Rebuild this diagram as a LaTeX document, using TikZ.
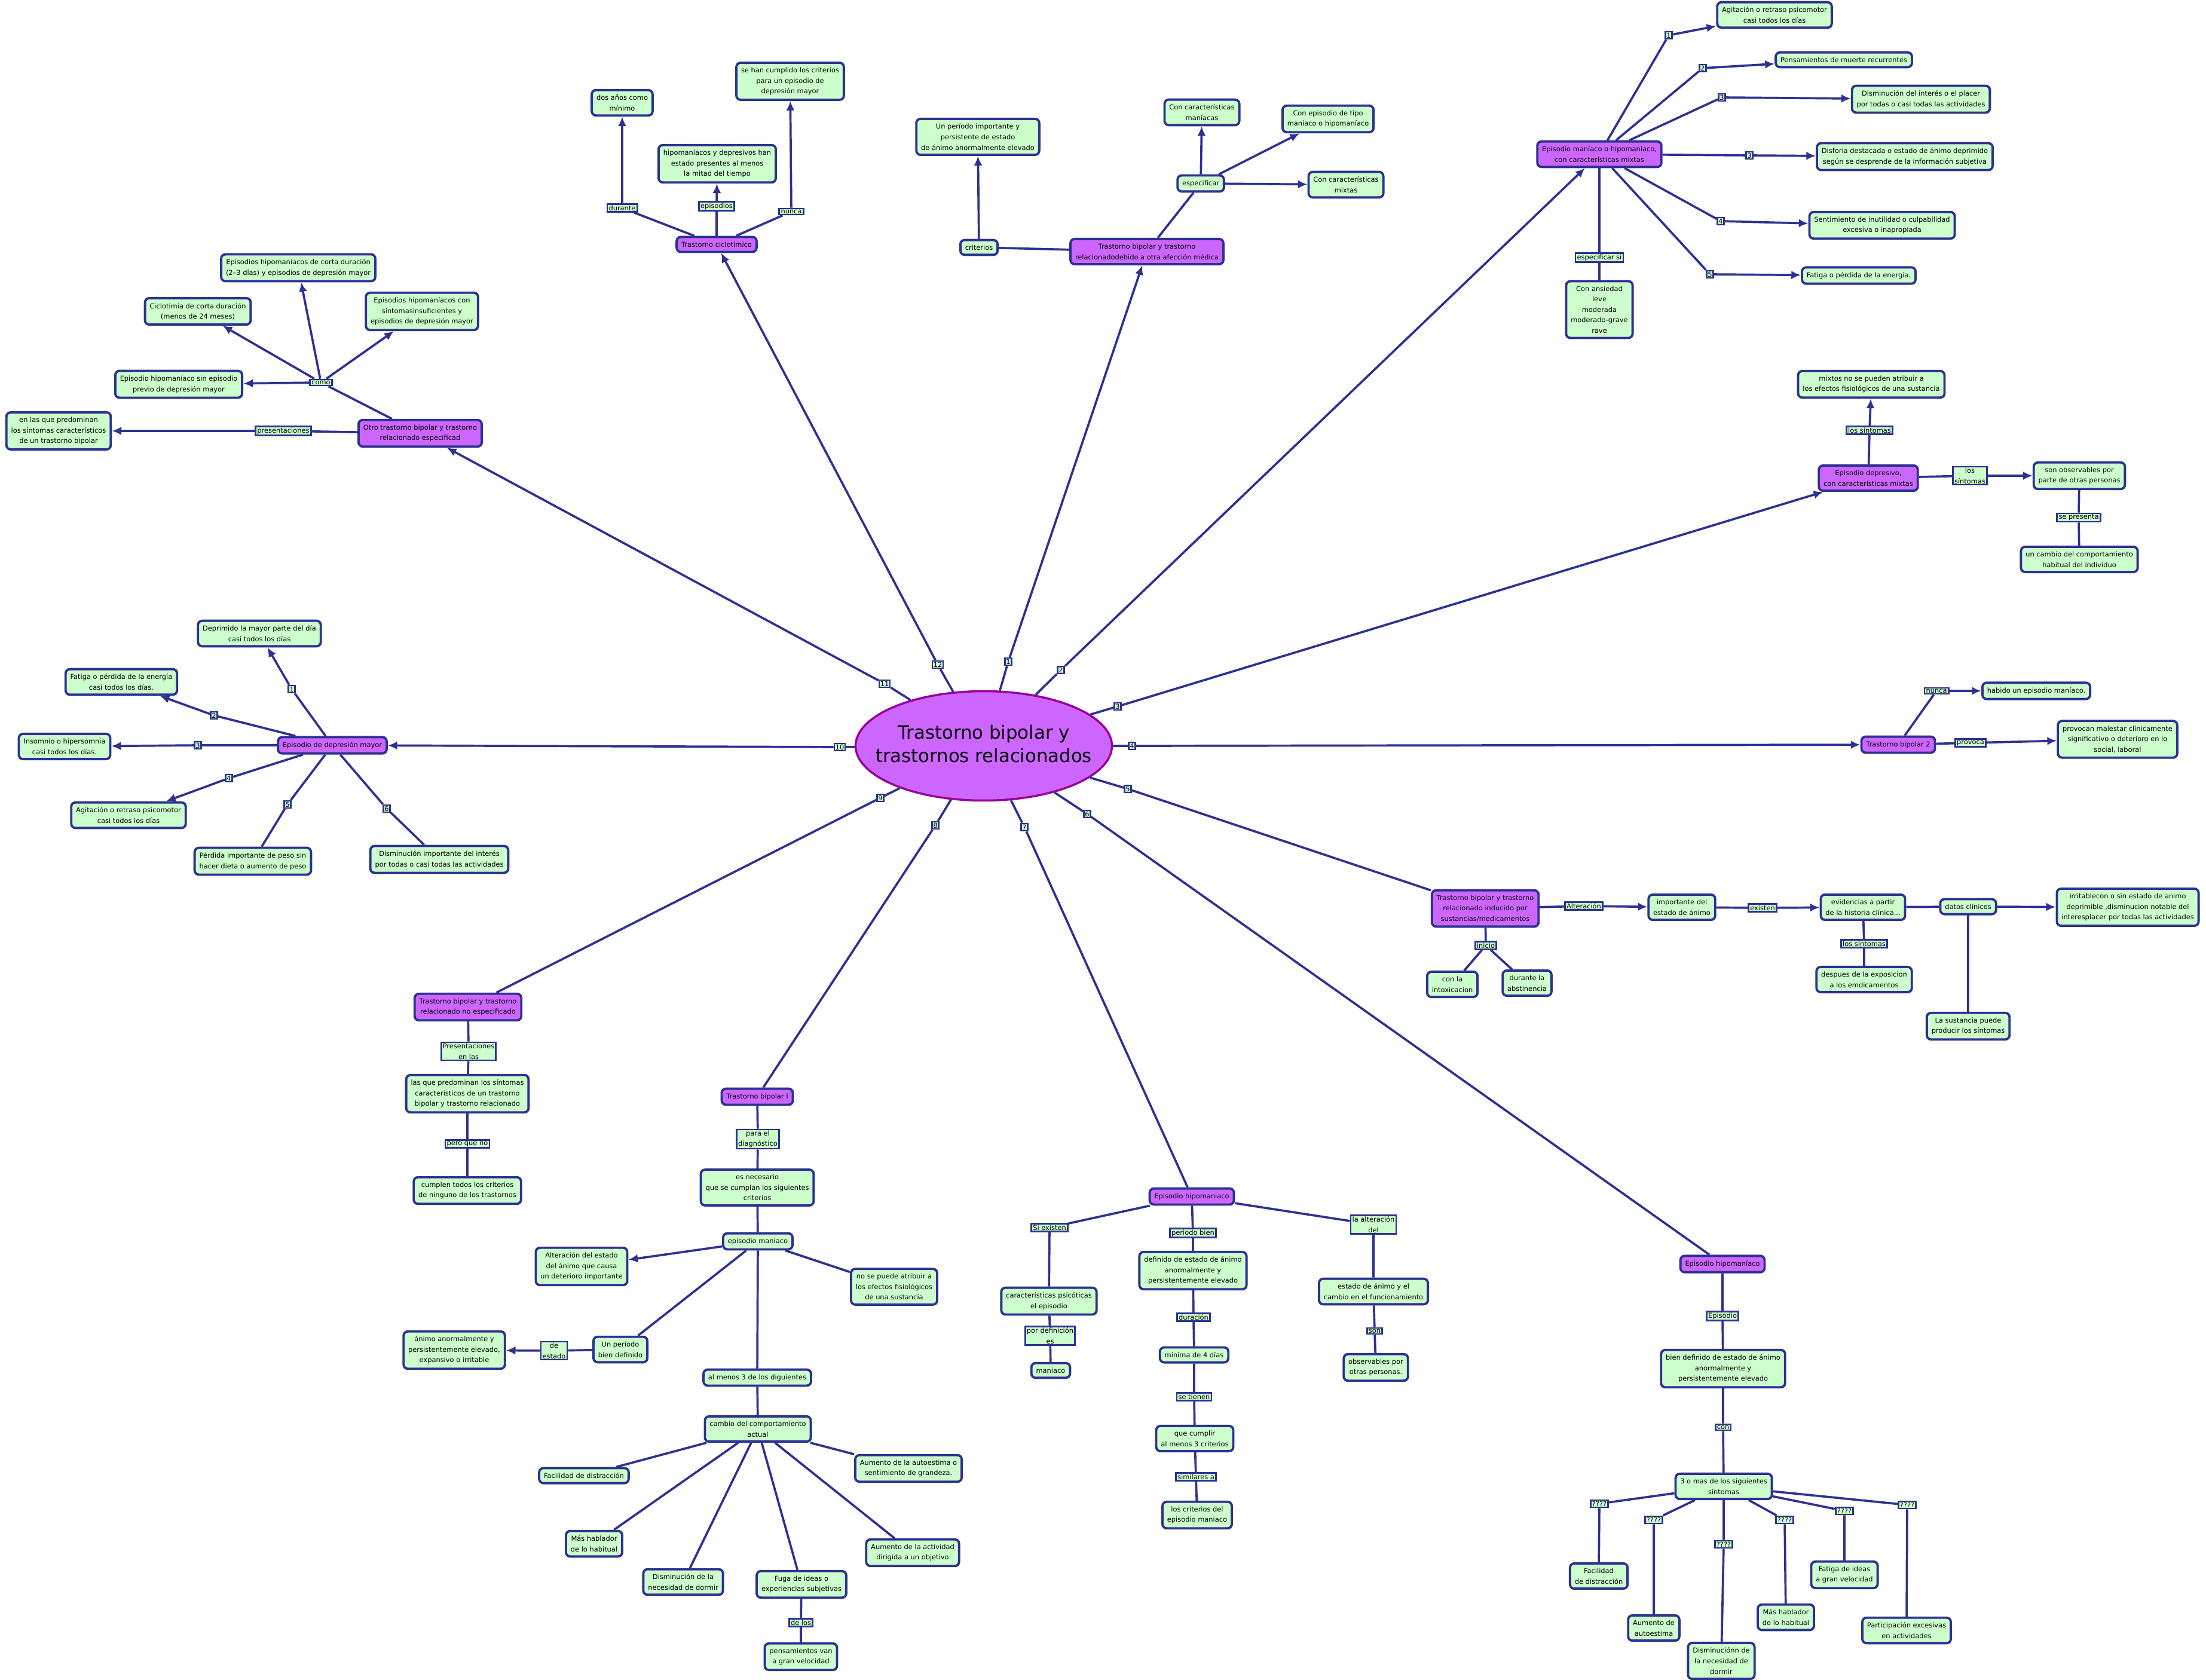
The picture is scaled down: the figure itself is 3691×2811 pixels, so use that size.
\documentclass[tikz,border=0pt]{standalone}
\usepackage{fontspec}
\setmainfont{DejaVu Sans}
\usetikzlibrary{arrows.meta, shapes.geometric}
\definecolor{cmapblue}{RGB}{46,49,146}
\definecolor{cmapgreen}{RGB}{204,255,204}
\definecolor{cmappurple}{RGB}{204,102,255}
\definecolor{coreborder}{RGB}{153,0,153}

\begin{document}
\begin{tikzpicture}[
    x=0.02cm, y=-0.02cm,
    font=\fontsize{6.5}{10}\selectfont,
    concept/.style={
        rectangle,
        rounded corners=4pt,
        draw=cmapblue,
        line width=2.2pt,
        fill=cmapgreen,
        align=center,
        inner xsep=4.5pt,
        inner ysep=4.5pt
    },
    topic/.style={concept, fill=cmappurple},
    phrase/.style={rectangle, draw=cmapblue, line width=1.6pt, fill=cmapgreen, align=center, inner xsep=1.5pt, inner ysep=1pt},
    num/.style={phrase, inner xsep=1pt},
    mainellipse/.style={ellipse, draw=coreborder, line width=2pt, fill=cmappurple, minimum width=8.58cm, minimum height=3.66cm,
        inner sep=0pt, font=\fontsize{17.5}{22}\selectfont},
    wire/.style={draw=cmapblue, line width=2.1pt},
    arrowwire/.style={wire, -{Latex[length=9pt,width=8pt]}}
]
\path[use as bounding box, fill=white] (0,0) rectangle (3691,2811);

% ---------------------------------------------------------------- Centre
% zero-width box so the ellipse keeps its own size
\node[mainellipse] (core) at (1646,1248)
    {\makebox[0pt]{\begin{tabular}{@{}c@{}}Trastorno bipolar y\\trastornos relacionados\end{tabular}}};

% ---------------------------------------------------------------- Main branches
\node[topic] (tbmed)     at (1919,421)  {Trastorno bipolar y trastorno\\relacionadodebido a otra afección médica};
\node[topic] (maniamix)  at (2676,258)  {Episodio maníaco o hipomaníaco,\\con características mixtas};
\node[topic] (depmix)    at (3126,800)  {Episodio depresivo,\\con características mixtas};
\node[topic] (tb2)       at (3176,1246) {Trastorno bipolar 2};
\node[topic] (induc)     at (2485,1520) {Trastorno bipolar y trastorno\\relacionado inducido por\\sustancias/medicamentos};
\node[topic] (hipoR)     at (2882,2115) {Episodio hipomaníaco};
\node[topic] (hipoM)     at (1994,2002) {Episodio hipomaniaco};
\node[topic] (tb1)       at (1267,1835) {Trastorno bipolar I};
\node[topic] (noesp)     at (783,1685)  {Trastorno bipolar y trastorno\\relacionado no especificado};
\node[topic] (edm)       at (556,1247)  {Episodio de depresión mayor};
\node[topic] (otro)      at (703,725)   {Otro trastorno bipolar y trastorno\\relacionado especificad};
\node[topic] (ciclo)     at (1199,409)  {Trastorno ciclotímico};

% numbered links
\node[num] (m1)  at (1687,1107) {1};
\node[num] (m2)  at (1775,1121) {2};
\node[num] (m3)  at (1870,1182) {3};
\node[num] (m4)  at (1894,1248) {4};
\node[num] (m5)  at (1887,1320) {5};
\node[num] (m6)  at (1819,1362) {6};
\node[num] (m7)  at (1714,1384) {7};
\node[num] (m8)  at (1565,1381) {8};
\node[num] (m9)  at (1473,1335) {9};
\node[num] (m10) at (1405,1250) {10};
\node[num] (m11) at (1480,1144) {11};
\node[num] (m12) at (1569,1112) {12};

\draw[wire] (core) -- (m1);  \draw[arrowwire] (m1) -- (tbmed);
\draw[wire] (core) -- (m2);  \draw[arrowwire] (m2) -- (maniamix);
\draw[wire] (core) -- (m3);  \draw[arrowwire] (m3) -- (depmix);
\draw[wire] (core) -- (m4);  \draw[arrowwire] (m4) -- (tb2);
\draw[wire] (core) -- (m5);  \draw[wire] (m5) -- (induc);
\draw[wire] (core) -- (m6);  \draw[wire] (m6) -- (hipoR);
\draw[wire] (core) -- (m7);  \draw[wire] (m7) -- (hipoM);
\draw[wire] (core) -- (m8);  \draw[wire] (m8) -- (tb1);
\draw[wire] (core) -- (m9);  \draw[wire] (m9) -- (noesp);
\draw[wire] (core) -- (m10); \draw[arrowwire] (m10) -- (edm);
\draw[wire] (core) -- (m11); \draw[arrowwire] (m11) -- (otro);
\draw[wire] (core) -- (m12); \draw[arrowwire] (m12) -- (ciclo);

% ---------------------------------------------------------------- Otro especificado
\node[phrase]  (como)      at (537,640) {como};
\node[phrase]  (pres)      at (474,721) {presentaciones};
\node[concept] (enlas)     at (98,721)  {en las que predominan\\los síntomas característicos\\de un trastorno bipolar};
\node[concept] (hsinep)    at (299,643) {Episodio hipomaníaco sin episodio\\previo de depresión mayor};
\node[concept] (ciclcorta) at (331,521) {Ciclotimia de corta duración\\(menos de 24 meses)};
\node[concept] (hcorta)    at (499,448) {Episodios hipomaniacos de corta duración\\(2–3 días) y episodios de depresión mayor};
\node[concept] (hinsuf)    at (706,521) {Episodios hipomaníacos con\\síntomasinsuficientes y\\episodios de depresión mayor};

\draw[wire] (otro) -- (como);
\draw[arrowwire] (como) -- (hsinep);
\draw[arrowwire] (como) -- (ciclcorta);
\draw[arrowwire] (como) -- (hcorta);
\draw[arrowwire] (como) -- (hinsuf);
\draw[wire] (otro) -- (pres);
\draw[arrowwire] (pres) -- (enlas);

% ---------------------------------------------------------------- Ciclotimico
\node[phrase]  (durante)   at (1041,348) {durante};
\node[phrase]  (episodios) at (1199,345) {episodios};
\node[phrase]  (nunca)     at (1324,354) {nunca};
\node[concept] (dosanos)   at (1041,172) {dos años como\\mínimo};
\node[concept] (hipodep)   at (1200,274) {hipomaníacos y depresivos han\\estado presentes al menos\\la mitad del tiempo};
\node[concept] (cumplido)  at (1322,136) {se han cumplido los criterios\\para un episodio de\\depresión mayor};

\draw[wire] (ciclo) -- (durante);   \draw[arrowwire] (durante) -- (dosanos);
\draw[wire] (ciclo) -- (episodios); \draw[arrowwire] (episodios) -- (hipodep);
\draw[wire] (ciclo) -- (nunca);     \draw[arrowwire] (nunca) -- (cumplido);

% ---------------------------------------------------------------- Afeccion medica
\node[concept] (criterios)   at (1638,414) {criterios};
\node[concept] (periodo)     at (1636,229) {Un período importante y\\persistente de estado\\de ánimo anormalmente elevado};
\node[concept] (especificar) at (2009,307) {especificar};
\node[concept] (cmaniacas)   at (2011,188) {Con características\\maníacas};
\node[concept] (ctipo)       at (2222,199) {Con episodio de tipo\\maníaco o hipomaníaco};
\node[concept] (cmixtas)     at (2252,309) {Con características\\mixtas};

\draw[wire] (tbmed) -- (criterios);
\draw[arrowwire] (criterios) -- (periodo);
\draw[wire] (tbmed) -- (especificar);
\draw[arrowwire] (especificar) -- (cmaniacas);
\draw[arrowwire] (especificar) -- (ctipo);
\draw[arrowwire] (especificar) -- (cmixtas);

% ---------------------------------------------------------------- Maniaco mixto
\node[num] (x1)  at (2792,59)  {1};
\node[num] (x2)  at (2849,114) {2};
\node[num] (x3)  at (2881,163) {3};
\node[num] (x3b) at (2927,260) {3};
\node[num] (x4)  at (2879,370) {4};
\node[num] (x5)  at (2861,459) {5};
\node[concept] (agit)     at (2969,25)  {Agitación o retraso psicomotor\\casi todos los días};
\node[concept] (muerte)   at (3085,100) {Pensamientos de muerte recurrentes};
\node[concept] (interes)  at (3214,166) {Disminución del interés o el placer\\por todas o casi todas las actividades};
\node[concept] (disforia) at (3187,262) {Disforia destacada o estado de ánimo deprimido\\según se desprende de la información subjetiva};
\node[concept] (inutil)   at (3149,377) {Sentimiento de inutilidad o culpabilidad\\excesiva o inapropiada};
\node[concept] (fatigaE)  at (3110,461) {Fatiga o pérdida de la energía.};
\node[phrase]  (espsi)    at (2676,431) {especificar si};
\node[concept] (ansiedad) at (2676,518) {Con ansiedad\\leve\\moderada\\moderado-grave\\rave};

\draw[wire] (maniamix) -- (x1);  \draw[arrowwire] (x1) -- (agit);
\draw[wire] (maniamix) -- (x2);  \draw[arrowwire] (x2) -- (muerte);
\draw[wire] (maniamix) -- (x3);  \draw[arrowwire] (x3) -- (interes);
\draw[wire] (maniamix) -- (x3b); \draw[arrowwire] (x3b) -- (disforia);
\draw[wire] (maniamix) -- (x4);  \draw[arrowwire] (x4) -- (inutil);
\draw[wire] (maniamix) -- (x5);  \draw[arrowwire] (x5) -- (fatigaE);
\draw[wire] (maniamix) -- (espsi) -- (ansiedad);

% ---------------------------------------------------------------- Depresivo mixto
\node[phrase]  (dsint1)     at (3128,720) {los síntomas};
\node[phrase]  (dsint2)     at (3296,796) {los\\síntomas};
\node[phrase]  (sepresenta) at (3478,866) {se presenta};
\node[concept] (mixtos)     at (3131,643) {mixtos no se pueden atribuir a\\los efectos fisiológicos de una sustancia};
\node[concept] (observ)     at (3479,796) {son observables por\\parte de otras personas};
\node[concept] (cambioind)  at (3479,936) {un cambio del comportamiento\\habitual del individuo};

\draw[wire] (depmix) -- (dsint1); \draw[arrowwire] (dsint1) -- (mixtos);
\draw[wire] (depmix) -- (dsint2); \draw[arrowwire] (dsint2) -- (observ);
\draw[wire] (observ) -- (sepresenta) -- (cambioind);

% ---------------------------------------------------------------- Bipolar 2
\node[phrase]  (nunca2)   at (3240,1156) {nunca};
\node[phrase]  (provoca)  at (3297,1243) {provoca};
\node[concept] (habido)   at (3407,1156) {habido un episodio maníaco.};
\node[concept] (malestar) at (3543,1237) {provocan malestar clínicamente\\significativo o deterioro en lo\\social, laboral};

\draw[wire] (tb2) -- (nunca2);  \draw[arrowwire] (nunca2) -- (habido);
\draw[wire] (tb2) -- (provoca); \draw[arrowwire] (provoca) -- (malestar);

% ---------------------------------------------------------------- Depresion mayor
\node[num] (d1) at (488,1153) {1};
\node[num] (d2) at (358,1197) {2};
\node[num] (d3) at (331,1247) {3};
\node[num] (d4) at (383,1302) {4};
\node[num] (d5) at (481,1346) {5};
\node[num] (d6) at (647,1353) {6};
\node[concept] (deprimido) at (434,1060) {Deprimido la mayor parte del día\\casi todos los días};
\node[concept] (fatigaD)   at (203,1141) {Fatiga o pérdida de la energía\\casi todos los días.};
\node[concept] (insomnio)  at (108,1249) {Insomnio o hipersomnia\\casi todos los días.};
\node[concept] (agitD)     at (215,1364) {Agitación o retraso psicomotor\\casi todos los días};
\node[concept] (peso)      at (423,1441) {Pérdida importante de peso sin\\hacer dieta o aumento de peso};
\node[concept] (disminD)   at (735,1438) {Disminución importante del interés\\por todas o casi todas las actividades};

\draw[wire] (edm) -- (d1); \draw[arrowwire] (d1) -- (deprimido);
\draw[wire] (edm) -- (d2); \draw[arrowwire] (d2) -- (fatigaD);
\draw[wire] (edm) -- (d3); \draw[arrowwire] (d3) -- (insomnio);
\draw[wire] (edm) -- (d4); \draw[arrowwire] (d4) -- (agitD);
\draw[wire] (edm) -- (d5) -- (peso);
\draw[wire] (edm) -- (d6) -- (disminD);

% ---------------------------------------------------------------- No especificado
\node[phrase]  (presen)  at (784,1759) {Presentaciones\\en las};
\node[concept] (predom)  at (782,1830) {las que predominan los síntomas\\característicos de un trastorno\\bipolar y trastorno relacionado};
\node[phrase]  (pero)    at (782,1914) {pero que no};
\node[concept] (cumplen) at (782,1992) {cumplen todos los criterios\\de ninguno de los trastornos};

\draw[wire] (noesp) -- (presen) -- (predom);
\draw[wire] (predom) -- (pero) -- (cumplen);

% ---------------------------------------------------------------- Bipolar I
\node[phrase]  (paradiag)  at (1268,1906) {para el\\diagnóstico};
\node[concept] (necesario) at (1267,1987) {es necesario\\que se cumplan los siguientes\\criterios};
\node[concept] (epman)     at (1268,2077) {episodio maniaco};
\node[concept] (alter)     at (973,2119)  {Alteración del estado\\del ánimo que causa\\un deterioro importante};
\node[concept] (atribuir)  at (1496,2153) {no se puede atribuir a\\los efectos fisiológicos\\de una sustancia};
\node[concept] (bienDef)   at (1038,2258) {Un período\\bien definido};
\node[phrase]  (deestado)  at (927,2260)  {de\\estado};
\node[concept] (animo)     at (760,2259)  {ánimo anormalmente y\\persistentemente elevado,\\expansivo o irritable};
\node[concept] (almenos)   at (1267,2305) {al menos 3 de los diguientes};
\node[concept] (cambio)    at (1268,2391) {cambio del comportamiento\\actual};
\node[concept] (distrac)   at (977,2469)  {Facilidad de distracción};
\node[concept] (autoest)   at (1520,2457) {Aumento de la autoestima o\\sentimiento de grandeza.};
\node[concept] (hablador)  at (994,2583)  {Más hablador\\de lo habitual};
\node[concept] (dormir)    at (1143,2647) {Disminución de la\\necesidad de dormir};
\node[concept] (fuga)      at (1341,2651) {Fuga de ideas o\\experiencias subjetivas};
\node[concept] (actividad) at (1527,2598) {Aumento de la actividad\\dirigida a un objetivo};
\node[phrase]  (delos)     at (1340,2715) {de los};
\node[concept] (pensam)    at (1340,2772) {pensamientos van\\a gran velocidad};

\draw[wire] (tb1) -- (paradiag) -- (necesario);
\draw[wire] (necesario) -- (epman);
\draw[arrowwire] (epman) -- (alter);
\draw[wire] (epman) -- (atribuir);
\draw[wire] (epman) -- (bienDef);
\draw[wire] (bienDef) -- (deestado);
\draw[arrowwire] (deestado) -- (animo);
\draw[wire] (epman) -- (almenos);
\draw[wire] (almenos) -- (cambio);
\foreach \sym in {distrac, autoest, hablador, dormir, fuga, actividad}
    \draw[wire] (cambio) -- (\sym);
\draw[wire] (fuga) -- (delos) -- (pensam);

% ---------------------------------------------------------------- Hipomaniaco (centre)
\node[phrase]  (siexisten)  at (1756,2054) {Si existen};
\node[concept] (psicot)     at (1755,2177) {características psicóticas\\el episodio};
\node[phrase]  (pordef)     at (1757,2235) {por definición\\es};
\node[concept] (maniaco)    at (1758,2293) {maniaco};
\node[phrase]  (perbien)    at (1996,2063) {periodo bien};
\node[concept] (definido)   at (1996,2126) {definido de estado de ánimo\\anormalmente y\\persistentemente elevado};
\node[phrase]  (duracion)   at (1997,2204) {duración};
\node[concept] (minima)     at (1998,2267) {mínima de 4 días};
\node[phrase]  (setienen)   at (1998,2337) {se tienen};
\node[concept] (quecumplir) at (1999,2407) {que cumplir\\al menos 3 criterios};
\node[phrase]  (similares)  at (2001,2471) {similares a};
\node[concept] (loscrit)    at (2003,2535) {los criterios del\\episodio maniaco};
\node[phrase]  (laalter)    at (2298,2049) {la alteración\\del};
\node[concept] (estadoan)   at (2298,2161) {estado de ánimo y el\\cambio en el funcionamiento};
\node[phrase]  (son)        at (2300,2227) {son};
\node[concept] (observ2)    at (2302,2288) {observables por\\otras personas.};

\draw[wire] (hipoM) -- (siexisten) -- (psicot);
\draw[wire] (psicot) -- (pordef) -- (maniaco);
\draw[wire] (hipoM) -- (perbien) -- (definido);
\draw[wire] (definido) -- (duracion) -- (minima);
\draw[wire] (minima) -- (setienen) -- (quecumplir);
\draw[wire] (quecumplir) -- (similares) -- (loscrit);
\draw[wire] (hipoM) -- (laalter) -- (estadoan);
\draw[wire] (estadoan) -- (son) -- (observ2);

% ---------------------------------------------------------------- Inducido por sustancias
\node[phrase]  (alteracion) at (2650,1516) {Alteración};
\node[concept] (importante) at (2814,1518) {importante del\\estado de ánimo};
\node[phrase]  (existen)    at (2949,1519) {existen};
\node[concept] (evidencias) at (3117,1518) {evidencias a partir\\de la historia clínica...};
\node[concept] (datos)      at (3293,1517) {datos clínicos};
\node[concept] (irritable)  at (3560,1518) {irritablecon o sin estado de animo\\deprimible ,disminucion notable del\\interesplacer por todas las actividades};
\node[concept] (sustancia)  at (3293,1717) {La sustancia puede\\producir los síntomas};
\node[phrase]  (lossint)    at (3119,1579) {los síntomas};
\node[concept] (despues)    at (3119,1639) {despues de la exposicion\\a los emdicamentos};
\node[phrase]  (inicio)     at (2486,1582) {inicio};
\node[concept] (intox)      at (2430,1647) {con la\\intoxicacion};
\node[concept] (abstin)     at (2555,1645) {durante la\\abstinencia};

\draw[wire] (induc) -- (alteracion); \draw[arrowwire] (alteracion) -- (importante);
\draw[wire] (importante) -- (existen); \draw[arrowwire] (existen) -- (evidencias);
\draw[wire] (evidencias) -- (datos);   \draw[arrowwire] (datos) -- (irritable);
\draw[wire] (datos) -- (sustancia);
\draw[wire] (evidencias) -- (lossint) -- (despues);
\draw[wire] (induc) -- (inicio);
\draw[wire] (inicio) -- (intox);
\draw[wire] (inicio) -- (abstin);

% ---------------------------------------------------------------- Hipomaniaco (right)
\node[phrase]  (epis)     at (2882,2202) {Episodio};
\node[concept] (biendef)  at (2883,2290) {bien definido de estado de ánimo\\anormalmente y\\persistentemente elevado};
\node[phrase]  (con)      at (2883,2388) {con};
\node[concept] (tresomas) at (2884,2487) {3 o mas de los siguientes\\síntomas};
\node[phrase]  (qa) at (2676,2516) {????};
\node[phrase]  (qb) at (2767,2543) {????};
\node[phrase]  (qc) at (2884,2584) {????};
\node[phrase]  (qd) at (2986,2543) {????};
\node[phrase]  (qe) at (3086,2528) {????};
\node[phrase]  (qf) at (3191,2518) {????};
\node[concept] (facil)    at (2675,2637) {Facilidad\\de distracción};
\node[concept] (aument)   at (2767,2724) {Aumento de\\autoestima};
\node[concept] (disminn)  at (2880,2779) {Disminuciónn de\\la necesidad de\\dormir};
\node[concept] (hablR)    at (2988,2706) {Más hablador\\de lo habitual};
\node[concept] (fatigaI)  at (3086,2635) {Fatiga de ideas\\a gran velocidad};
\node[concept] (particip) at (3190,2728) {Participación excesivas\\en actividades};

\draw[wire] (hipoR) -- (epis) -- (biendef);
\draw[wire] (biendef) -- (con) -- (tresomas);
\draw[wire] (tresomas) -- (qa) -- (facil);
\draw[wire] (tresomas) -- (qb) -- (aument);
\draw[wire] (tresomas) -- (qc) -- (disminn);
\draw[wire] (tresomas) -- (qd) -- (hablR);
\draw[wire] (tresomas) -- (qe) -- (fatigaI);
\draw[wire] (tresomas) -- (qf) -- (particip);

\end{tikzpicture}
\end{document}
